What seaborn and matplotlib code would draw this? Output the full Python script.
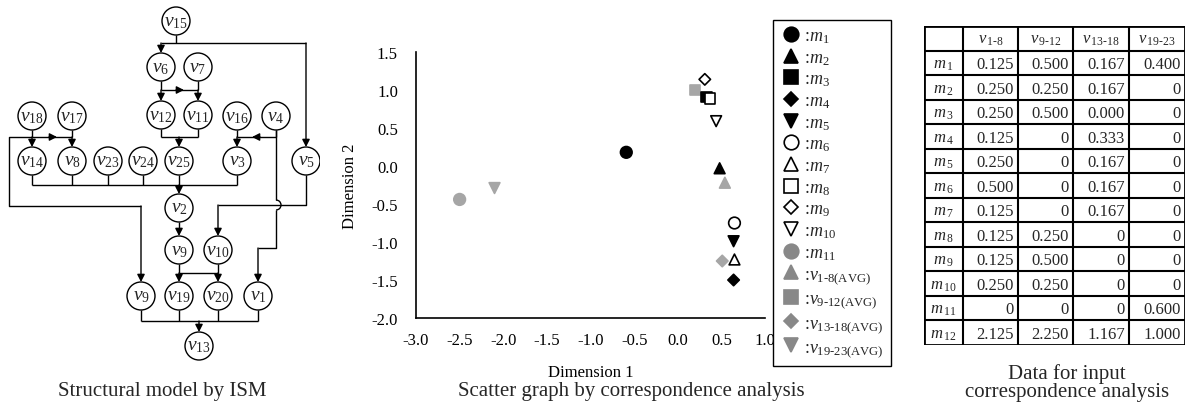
import numpy as np
import pandas as pd
import matplotlib
matplotlib.use("Agg")
import matplotlib.pyplot as plt
import seaborn as sns
from matplotlib.patches import Circle, Arc
from matplotlib.lines import Line2D

sns.set_theme(style="white")
plt.rcParams['font.family'] = ['Liberation Serif', 'DejaVu Serif']
plt.rcParams['mathtext.fontset'] = 'custom'
plt.rcParams['mathtext.rm'] = 'Liberation Serif'
plt.rcParams['mathtext.it'] = 'Liberation Serif:italic'
plt.rcParams['mathtext.bf'] = 'Liberation Serif:bold'
plt.rcParams['axes.unicode_minus'] = False

W, H = 1189, 410

# --- ISM structural model (node layout in panel pixels) ---
node_ids = ['v15', 'v6', 'v7', 'v12', 'v11', 'v18', 'v17', 'v16', 'v4',
            'v14', 'v8', 'v23', 'v24', 'v25', 'v3', 'v5', 'v2',
            'v9a', 'v10', 'v9b', 'v19', 'v20', 'v1', 'v13']
node_num = ['15', '6', '7', '12', '11', '18', '17', '16', '4',
            '14', '8', '23', '24', '25', '3', '5', '2',
            '9', '10', '9', '19', '20', '1', '13']
node_x = [176, 161, 198, 161, 198, 32, 72, 237, 276,
          32, 72, 108, 143, 179, 237, 306, 179,
          179, 218, 141, 179, 218, 258, 199]
node_y = [22, 68, 68, 116, 116, 117, 117, 117, 117,
          162, 162, 162, 162, 162, 162, 162, 209,
          251, 251, 297, 297, 297, 297, 347]

# sources -> bus level -> targets
buses = [
    (['v15'], 44, ['v6', 'v5']),
    (['v6', 'v7'], 91, ['v12', 'v11']),
    (['v12', 'v11'], 138, ['v25']),
    (['v18', 'v17'], 138, ['v14', 'v8']),
    (['v16', 'v4'], 138, ['v3']),
    (['v14', 'v8', 'v23', 'v24', 'v25', 'v3'], 186, ['v2']),
    (['v2'], 231, ['v9a']),
    (['v9a', 'v10'], 274, ['v19', 'v20']),
    (['v9b', 'v19', 'v20', 'v1'], 322, ['v13']),
]
mid_arrows = [(180, 91, 1), (53, 138, 1), (256, 138, -1)]

# --- correspondence analysis scatter ---
pt_labels = ['m1', 'm2', 'm3', 'm4', 'm5', 'm6', 'm7', 'm8', 'm9', 'm10', 'm11',
             'v1-8', 'v9-12', 'v13-18', 'v19-23']
dim1 = [-0.59, 0.48, 0.33, 0.64, 0.64, 0.65, 0.65, 0.37, 0.31, 0.44, -2.50,
        0.54, 0.20, 0.51, -2.10]
dim2 = [0.18, -0.03, 0.91, -1.50, -0.99, -0.75, -1.23, 0.89, 1.14, 0.59, -0.44,
        -0.22, 1.00, -1.25, -0.29]
pt_marker = ['o', '^', 's', 'D', 'v', 'o', '^', 's', 'D', 'v', 'o', '^', 's', 'D', 'v']
pt_fill = ['black'] * 5 + ['open'] * 5 + ['gray'] * 5

# --- table data ---
tbl_cols = ['1-8', '9-12', '13-18', '19-23']
tbl_rows = [str(i) for i in range(1, 13)]
col_v1_8 = ['0.125', '0.250', '0.250', '0.125', '0.250', '0.500', '0.125', '0.125', '0.125', '0.250', '0', '2.125']
col_v9_12 = ['0.500', '0.250', '0.500', '0', '0', '0', '0', '0.250', '0.500', '0.250', '0', '2.250']
col_v13_18 = ['0.167', '0.167', '0.000', '0.333', '0.167', '0.167', '0.167', '0', '0', '0', '0', '1.167']
col_v19_23 = ['0.400', '0', '0', '0', '0', '0', '0', '0', '0', '0', '0.600', '1.000']


def px_axes(fig, x0, y0, w, h):
    return fig.add_axes([x0 / W, 1 - (y0 + h) / H, w / W, h / H])


def arrow(ax, start, end):
    ax.annotate('', xy=end, xytext=start,
                arrowprops=dict(arrowstyle='-|>,head_length=0.55,head_width=0.28',
                                color='black', lw=1.0, shrinkA=0, shrinkB=0,
                                mutation_scale=8))


fig = plt.figure(figsize=(W / 100, H / 100), dpi=100)

# ---------------- ISM panel ----------------
ax0 = px_axes(fig, 0, 0, 320, 410)
ax0.set_xlim(0, 320)
ax0.set_ylim(410, 0)
ax0.axis('off')
R = 14
pos = {n: (x, y) for n, x, y in zip(node_ids, node_x, node_y)}
lk = dict(color='black', lw=1.0, solid_capstyle='butt')

for srcs, yb, tgts in buses:
    xs = [pos[s][0] for s in srcs] + [pos[t][0] for t in tgts]
    ax0.plot([min(xs), max(xs)], [yb, yb], **lk)
    for s in srcs:
        ax0.plot([pos[s][0], pos[s][0]], [pos[s][1] + R, yb], **lk)
    for t in tgts:
        arrow(ax0, (pos[t][0], yb), (pos[t][0], pos[t][1] - R))

# long routes
x18, x9b, y9b = pos['v18'][0], pos['v9b'][0], pos['v9b'][1]
ax0.plot([x18, 9, 9, x9b], [138, 138, 207, 207], **lk)
arrow(ax0, (x9b, 207), (x9b, y9b - R))
x5, y5 = pos['v5']
x10, y10 = pos['v10']
ax0.plot([x5, x5, x10], [y5 + R, 206, 206], **lk)
arrow(ax0, (x10, 206), (x10, y10 - R))
x4, y4 = pos['v4']
x1, y1 = pos['v1']
ax0.plot([x4, x4], [y4 + R, 201], **lk)
ax0.add_patch(Arc((x4, 206), 10, 10, theta1=-90, theta2=90, color='black', lw=1.0))
ax0.plot([x4, x4, x1], [211, 249, 249], **lk)
arrow(ax0, (x1, 249), (x1, y1 - R))
for mx, my, d in mid_arrows:
    arrow(ax0, (mx - 4 * d, my), (mx + 4 * d, my))

for n, num in zip(node_ids, node_num):
    x, y = pos[n]
    ax0.add_patch(Circle((x, y), R, facecolor='white', edgecolor='black', lw=1.0, zorder=4))
    ax0.text(x, y, r'$v_{%s}$' % num, ha='center', va='center', fontsize=14, zorder=5)

# ---------------- scatter panel ----------------
ax1 = px_axes(fig, 416, 53, 349, 266)
ca = pd.DataFrame({'label': pt_labels, 'dim1': dim1, 'dim2': dim2,
                   'marker': pt_marker, 'fill': pt_fill})
marker_map = {'o': 'o', '^': '^', 's': 's', 'D': 'D', 'v': 'v'}
size_map = {'o': 70, '^': 60, 's': 55, 'D': 34, 'v': 60}
fill_kw = {'gray': dict(color='#a6a6a6', edgecolor='#a6a6a6'),
           'black': dict(color='black', edgecolor='black'),
           'open': dict(color='white', edgecolor='black')}
for fill, kw in fill_kw.items():
    sub = ca[ca['fill'] == fill]
    sns.scatterplot(data=sub, x='dim1', y='dim2', style='marker', markers=marker_map,
                    size='marker', sizes=size_map, legend=False, linewidth=1.2,
                    zorder=3, ax=ax1, **kw)

ax1.set_xlim(-3, 1)
ax1.set_ylim(-2, 1.5)
ax1.set_xticks(np.arange(-3, 1.01, 0.5))
ax1.set_yticks(np.arange(-2, 1.51, 0.5))
ax1.xaxis.set_major_formatter(matplotlib.ticker.FormatStrFormatter('%.1f'))
ax1.yaxis.set_major_formatter(matplotlib.ticker.FormatStrFormatter('%.1f'))
for sp in ['top', 'right']:
    ax1.spines[sp].set_visible(False)
for sp in ['left', 'bottom']:
    ax1.spines[sp].set_color('black')
    ax1.spines[sp].set_linewidth(1.2)
ax1.tick_params(axis='x', direction='in', length=4, width=1, colors='black', labelsize=12, pad=10)
ax1.tick_params(axis='y', direction='in', length=4, width=1, colors='black', labelsize=12, pad=13)
ax1.set_xlabel('Dimension 1', fontsize=12, color='black')
ax1.set_ylabel('Dimension 2', fontsize=12, color='black')
ax1.xaxis.set_label_coords(0.5, -0.173)
ax1.yaxis.set_label_coords(-0.166, 0.5)


def leg_label(lab):
    if lab.startswith('m'):
        return r':$m_{%s}$' % lab[1:]
    return r':$v_{\text{%s(AVG)}}$' % lab[1:]


leg_fill = {'black': ('black', 'black'), 'open': ('white', 'black'), 'gray': ('#888888', '#888888')}
leg_ms = {'o': 10.5, '^': 10, 's': 9.5, 'D': 7.5, 'v': 10}
handles = [Line2D([], [], linestyle='none', marker=m, markersize=leg_ms[m],
                  markerfacecolor=leg_fill[f][0], markeredgecolor=leg_fill[f][1],
                  markeredgewidth=1.2)
           for m, f in zip(pt_marker, pt_fill)]
leg = fig.legend(handles, [leg_label(l) for l in pt_labels], loc='upper left',
                 bbox_to_anchor=(773 / W, 1 - 21 / H), bbox_transform=fig.transFigure,
                 frameon=True, fancybox=False, edgecolor='black', framealpha=1,
                 fontsize=13, labelspacing=0.22, handletextpad=0.1, handlelength=1.2,
                 borderpad=0.4, borderaxespad=0)
leg.get_frame().set_linewidth(1.0)

# ---------------- table panel ----------------
ax2 = px_axes(fig, 924, 27, 261, 319)
ax2.set_xlim(0, 261)
ax2.set_ylim(319, 0)
ax2.axis('off')
col_edges = [0, 39, 94, 149, 205, 261]
nrow = len(tbl_rows) + 1
rh = 319 / nrow
for i in range(nrow + 1):
    ax2.plot([0, 261], [i * rh, i * rh], color='black', lw=2.0 if i in (0, nrow) else 1.5,
             solid_capstyle='projecting')
for j, xe in enumerate(col_edges):
    ax2.plot([xe, xe], [0, 319], color='black', lw=2.0 if j in (0, len(col_edges) - 1) else 1.5,
             solid_capstyle='projecting')
for j, c in enumerate(tbl_cols):
    xc = (col_edges[j + 1] + col_edges[j + 2]) / 2
    ax2.text(xc, rh * 0.55, r'$v_{\,\text{%s}}$' % c, ha='center', va='center', fontsize=12)
cols = [col_v1_8, col_v9_12, col_v13_18, col_v19_23]
for i, r in enumerate(tbl_rows):
    yc = (i + 1.55) * rh
    ax2.text((col_edges[0] + col_edges[1]) / 2, yc, r'$m_{\,%s}$' % r, ha='center', va='center', fontsize=12)
    for j, col in enumerate(cols):
        ax2.text(col_edges[j + 2] - 4, yc, col[i], ha='right', va='center', fontsize=12)

# captions
fig.text(162 / W, 1 - 392 / H, 'Structural model by ISM', ha='center', va='center', fontsize=15)
fig.text(631 / W, 1 - 392 / H, 'Scatter graph by correspondence analysis', ha='center', va='center', fontsize=15)
fig.text(1067 / W, 1 - 383 / H, 'Data for input\ncorrespondence analysis', ha='center', va='center',
         fontsize=15, linespacing=0.9)

fig.savefig('out.png', dpi=100)
